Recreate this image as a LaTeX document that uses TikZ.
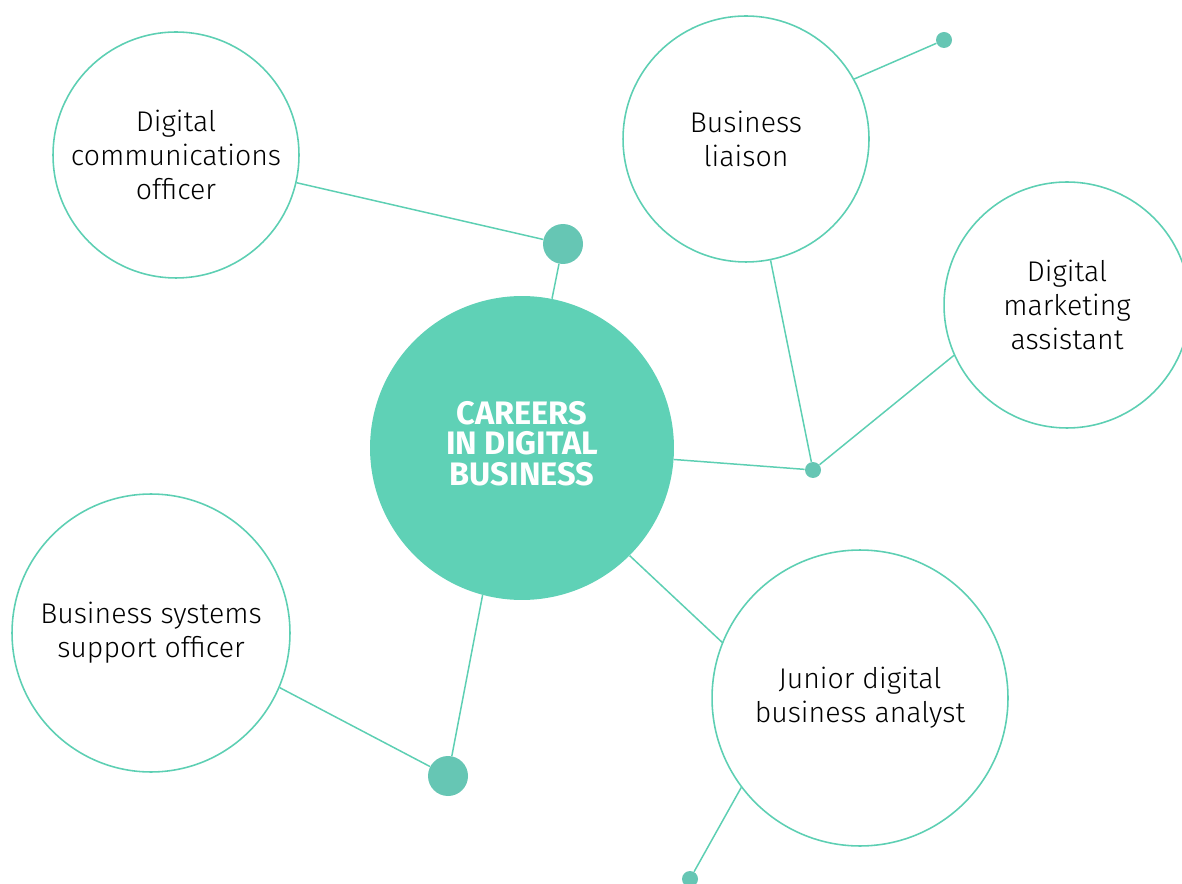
\documentclass[tikz,border=0pt]{standalone}
\usepackage{fontspec}
\setmainfont{Fira Sans}[UprightFont=* Light, BoldFont=* Bold]
\definecolor{hubmint}{HTML}{5FD1B6}
\definecolor{dotmint}{HTML}{66C6B4}
\definecolor{linemint}{HTML}{5DCFB3}
\tikzset{
  career/.style={circle, draw=linemint, line width=0.9pt, inner sep=0pt,
    minimum size=#1, align=center, font=\fontsize{16.2}{19.3}\selectfont},
  hub/.style={circle, fill=hubmint, inner sep=0pt, minimum size=6.08cm,
    align=center, text=white, font=\bfseries\fontsize{18.5}{18.2}\selectfont},
  bigdot/.style={circle, fill=dotmint, inner sep=0pt, minimum size=0.8cm},
  smalldot/.style={circle, fill=dotmint, inner sep=0pt, minimum size=0.32cm},
  link/.style={draw=linemint, line width=0.85pt}
}
\begin{document}
\begin{tikzpicture}[x=0.02cm, y=-0.02cm]
  %%%%% START %%%%%
  \useasboundingbox (0,0) rectangle (1182,884);
  \clip (0,0) rectangle (1182,884);

  \node[hub] (hub) at (522,448) {\raisebox{2.2pt}{\begin{tabular}{@{}c@{}}CAREERS\\[-1.2pt]IN DIGITAL\\[-1.2pt]BUSINESS\end{tabular}}};

  \node[career=4.92cm] (comm) at (176,155) {Digital\\communications\\officer};
  \node[career=4.92cm] (liaison) at (746,139) {Business\\liaison};
  \node[career=4.92cm] (market) at (1067,305) {Digital\\marketing\\assistant};
  \node[career=5.56cm] (support) at (151,633) {Business systems\\support officer};
  \node[career=5.92cm] (analyst) at (860,698) {Junior digital\\business analyst};

  \node[bigdot] (dotA) at (563,244) {};
  \node[bigdot] (dotB) at (448,776) {};
  \node[smalldot] (dotC) at (813,470) {};
  \node[smalldot] (dotD) at (944,40) {};
  \node[smalldot] (dotE) at (690,879) {};

  % links
  \draw[link] (comm) -- (dotA);
  \draw[link] (dotA) -- (hub);
  \draw[link] (hub) -- (dotC);
  \draw[link] (liaison) -- (dotC);
  \draw[link] (dotC) -- (market.204);
  \draw[link] (liaison.29) -- (dotD);
  \draw[link] (hub.-45) -- (analyst.158);
  \draw[link] (analyst.217) -- (dotE);
  \draw[link] (hub.-105) -- (dotB);
  \draw[link] (support.-23) -- (dotB);
  %%%%% END %%%%%
\end{tikzpicture}
\end{document}
